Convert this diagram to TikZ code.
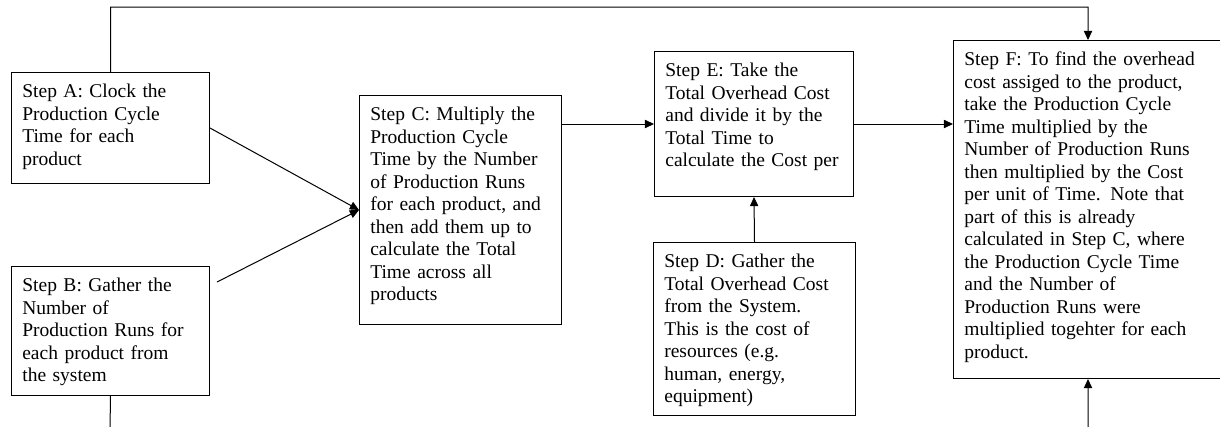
\documentclass[tikz,border=0pt]{standalone}
\usepackage{fontspec}
\setmainfont{Liberation Serif}
\usepackage{tikz}
\usetikzlibrary{arrows.meta}
\tikzset{stepbox/.style={draw, line width=0.6pt, anchor=north west, align=left,
    inner xsep=6.5pt, inner ysep=6pt, text height=9pt,
    font=\fontsize{11.7pt}{13.5pt}\selectfont},
  flow/.style={line width=0.6pt, -{Triangle[length=5.5pt,width=5pt]}}}

\begin{document}
\begin{tikzpicture}[x=0.6pt,y=-0.6pt]
   \useasboundingbox (0,0) rectangle (1220,426);
   \node[stepbox, text width=105.8pt, text depth=45.6pt] (stepA) at (11,72)
     {Step A: Clock the\\ Production Cycle\\ Time for each\\ product};
   \node[stepbox, text width=105.8pt, text depth=56.4pt] (stepB) at (11,266)
     {Step B: Gather the\\ Number of\\ Production Runs for\\ each product from\\ the system};
   \node[stepbox, text width=108.2pt, text depth=116.4pt] (stepC) at (359,95)
     {Step C: Multiply the\\ Production Cycle\\ Time by the Number\\ of Production Runs\\ for each product, and\\ then add them up to\\ calculate the Total\\ Time across all\\ products};
   \node[stepbox, text width=106.4pt, text depth=66pt] (stepE) at (654,51)
     {Step E: Take the\\ Total Overhead Cost\\ and divide it by the\\ Total Time to\\ calculate the Cost per};
   \node[stepbox, text width=108.2pt, text depth=82.8pt] (stepD) at (653,242)
     {Step D: Gather the\\ Total Overhead Cost\\ from the System.\\ This is the cost of\\ resources (e.g.\\ human, energy,\\ equipment)};
   \node[stepbox, text width=148.4pt, text depth=181.8pt] (stepF) at (953,40)
     {Step F: To find the overhead\\ cost assiged to the product,\\ take the Production Cycle\\ Time multiplied by the\\ Number of Production Runs\\ then multiplied by the Cost\\ per unit of Time. Note that\\ part of this is already\\ calculated in Step C, where\\ the Production Cycle Time\\ and the Number of\\ Production Runs were\\ multiplied togehter for each\\ product.};
   % loose ends of the connectors
   \coordinate (bout) at (217,282);
   \coordinate (toprun) at (1088,7);
   \coordinate (bdown) at (110,430);
   \coordinate (fup) at (1088,430);
   \draw[flow] (stepA.east) -- (stepC.west);
   \draw[flow] (bout) -- (stepC.west);
   \draw[flow] (stepC.east |- stepE.west) -- (stepE.west);
   \draw[flow] (stepD.north) -- (stepE.south);
   \draw[flow] (stepE.east) -- (stepF.west |- stepE.east);
   \draw[flow] (stepA.north) |- (toprun) -- (stepF.north);
   \draw[line width=0.6pt] (stepB.south) -- (bdown);
   \draw[flow] (fup) -- (stepF.south);
\end{tikzpicture}
\end{document}
